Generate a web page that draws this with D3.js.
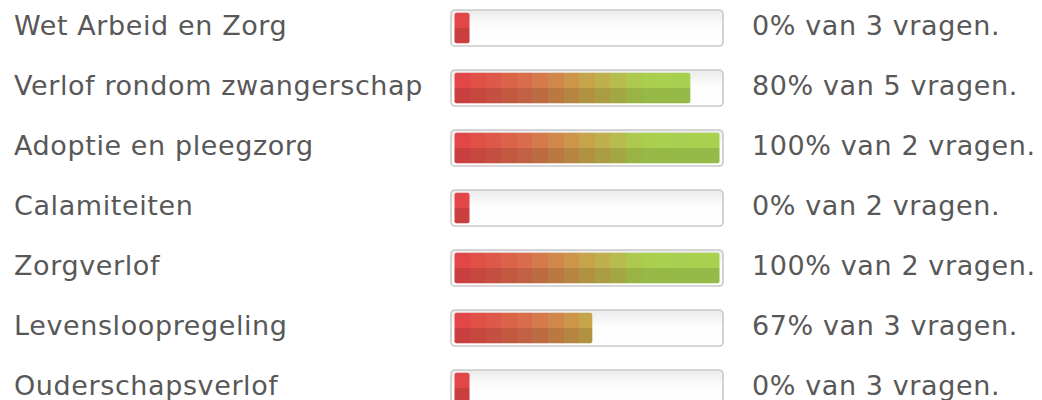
<!DOCTYPE html>
<html>
<head>
<meta charset="utf-8">
<script src="https://cdn.jsdelivr.net/npm/d3@7"></script>
<style>
  body { margin: 0; background: #fff; }
  text { font-family: "DejaVu Sans", Verdana, sans-serif; fill: #585858; letter-spacing: 0.6px; }
</style>
</head>
<body>
<svg id="chart" width="1042" height="400"></svg>
<script>
var categories = ["Wet Arbeid en Zorg", "Verlof rondom zwangerschap", "Adoptie en pleegzorg",
                  "Calamiteiten", "Zorgverlof", "Levensloopregeling", "Ouderschapsverlof"];
var percentages = [0, 80, 100, 0, 100, 67, 0];
var questions = [3, 5, 2, 2, 2, 3, 3];
// fill length of each bar as drawn (0-100)
var fillValues = [0, 89, 100, 0, 100, 52, 0];

var svg = d3.select("#chart");

var barX = 451, barW = 272, barH = 36,
    innerX = 454.5, innerW = 265, minFill = 15;

var y = d3.scaleBand()
    .domain(categories)
    .range([0, 420]);

var x = d3.scaleLinear()
    .domain([0, 100])
    .range([0, innerW]);

var defs = svg.append("defs");

// light background of the empty track
var track = defs.append("linearGradient")
    .attr("id", "track").attr("x1", 0).attr("x2", 0).attr("y1", 0).attr("y2", 1);
track.append("stop").attr("offset", 0).attr("stop-color", "#ebebeb");
track.append("stop").attr("offset", 0.45).attr("stop-color", "#fdfdfd");
track.append("stop").attr("offset", 1).attr("stop-color", "#fff");

// blocky red -> green gradient over the full track width
var colour = d3.scaleLinear()
    .domain([0, 0.25, 0.48, 0.72, 1])
    .range(["#e24646", "#d96c4b", "#c9a04a", "#a9cf4f", "#a8d150"]);
var steps = 17;
var grad = defs.append("linearGradient")
    .attr("id", "fillGrad")
    .attr("gradientUnits", "userSpaceOnUse")
    .attr("x1", innerX).attr("x2", innerX + innerW)
    .attr("y1", 0).attr("y2", 0);
d3.range(steps).forEach(function(k) {
    var c = colour(k / (steps - 1));
    grad.append("stop").attr("offset", k / steps).attr("stop-color", c);
    grad.append("stop").attr("offset", (k + 1) / steps).attr("stop-color", c);
});

var row = svg.selectAll(".row")
    .data(categories)
  .enter().append("g")
    .attr("class", "row")
    .attr("transform", function(d) { return "translate(0," + y(d) + ")"; });

row.append("text")
    .attr("x", 14)
    .attr("y", 35)
    .style("font-size", "27px")
    .text(function(d) { return d; });

row.append("rect")
    .attr("x", barX)
    .attr("y", 10)
    .attr("width", barW)
    .attr("height", barH)
    .attr("rx", 4)
    .attr("fill", "url(#track)")
    .attr("stroke", "#c9c9c9")
    .attr("stroke-width", 1.6);

var fillW = function(d, i) { return Math.max(minFill, x(fillValues[i])); };

row.append("rect")
    .attr("x", innerX)
    .attr("y", 12.8)
    .attr("width", fillW)
    .attr("height", 30.5)
    .attr("rx", 2)
    .attr("fill", "url(#fillGrad)");

row.append("rect")
    .attr("x", innerX)
    .attr("y", 28)
    .attr("width", fillW)
    .attr("height", 15.3)
    .attr("rx", 2)
    .attr("fill", "#000")
    .attr("fill-opacity", 0.11);

row.append("text")
    .attr("x", 752)
    .attr("y", 35)
    .style("font-size", "27px")
    .text(function(d, i) { return percentages[i] + "% van " + questions[i] + " vragen."; });
</script>
</body>
</html>
